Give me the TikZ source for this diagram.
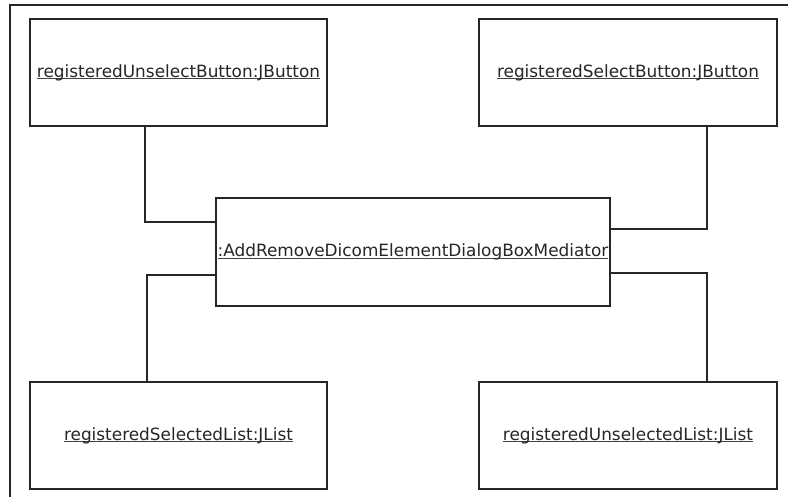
\documentclass[tikz,border=0pt]{standalone}
\usepackage{fontspec}
\setmainfont{DejaVu Sans}
\newsavebox{\ulbox}
\newcommand{\objname}[1]{\sbox{\ulbox}{#1}\rlap{\color{black!75}\rule[-1.7pt]{\wd\ulbox}{0.8pt}}\usebox{\ulbox}}
\begin{document}
\begin{tikzpicture}[x=1pt,y=-1pt,
  obj/.style={draw=black!85,line width=1.3pt,fill=white,inner sep=0pt,
    font=\fontsize{16.9}{20}\selectfont,text=black!85},
  link/.style={draw=black!85,line width=1.3pt}]
\useasboundingbox (0,0) rectangle (788,497);
% diagram frame (top and left edges)
\draw[line width=2.4pt,black!85] (10,497) -- (10,5) -- (788,5);

\node[obj,minimum width=297pt,minimum height=107pt] (ubtn) at (178.5,72.5) {\objname{registeredUnselectButton:JButton}};
\node[obj,minimum width=298pt,minimum height=107pt] (sbtn) at (628,72.5) {\objname{registeredSelectButton:JButton}};
\node[obj,minimum width=394pt,minimum height=108pt] (med) at (413,252) {\objname{:AddRemoveDicomElementDialogBoxMediator}};
\node[obj,minimum width=297pt,minimum height=107pt] (slist) at (178.5,435.5) {\objname{registeredSelectedList:JList}};
\node[obj,minimum width=298pt,minimum height=107pt] (ulist) at (628,435.5) {\objname{registeredUnselectedList:JList}};

% bend points of the links
\coordinate (k1) at (145,222);
\coordinate (k2) at (707,229);
\coordinate (k3) at (147,275);
\coordinate (k4) at (707,273);

\draw[link] (ubtn.south -| k1) -- (k1) -- (med.west |- k1);
\draw[link] (sbtn.south -| k2) -- (k2) -- (med.east |- k2);
\draw[link] (slist.north -| k3) -- (k3) -- (med.west |- k3);
\draw[link] (ulist.north -| k4) -- (k4) -- (med.east |- k4);
\end{tikzpicture}
\end{document}
